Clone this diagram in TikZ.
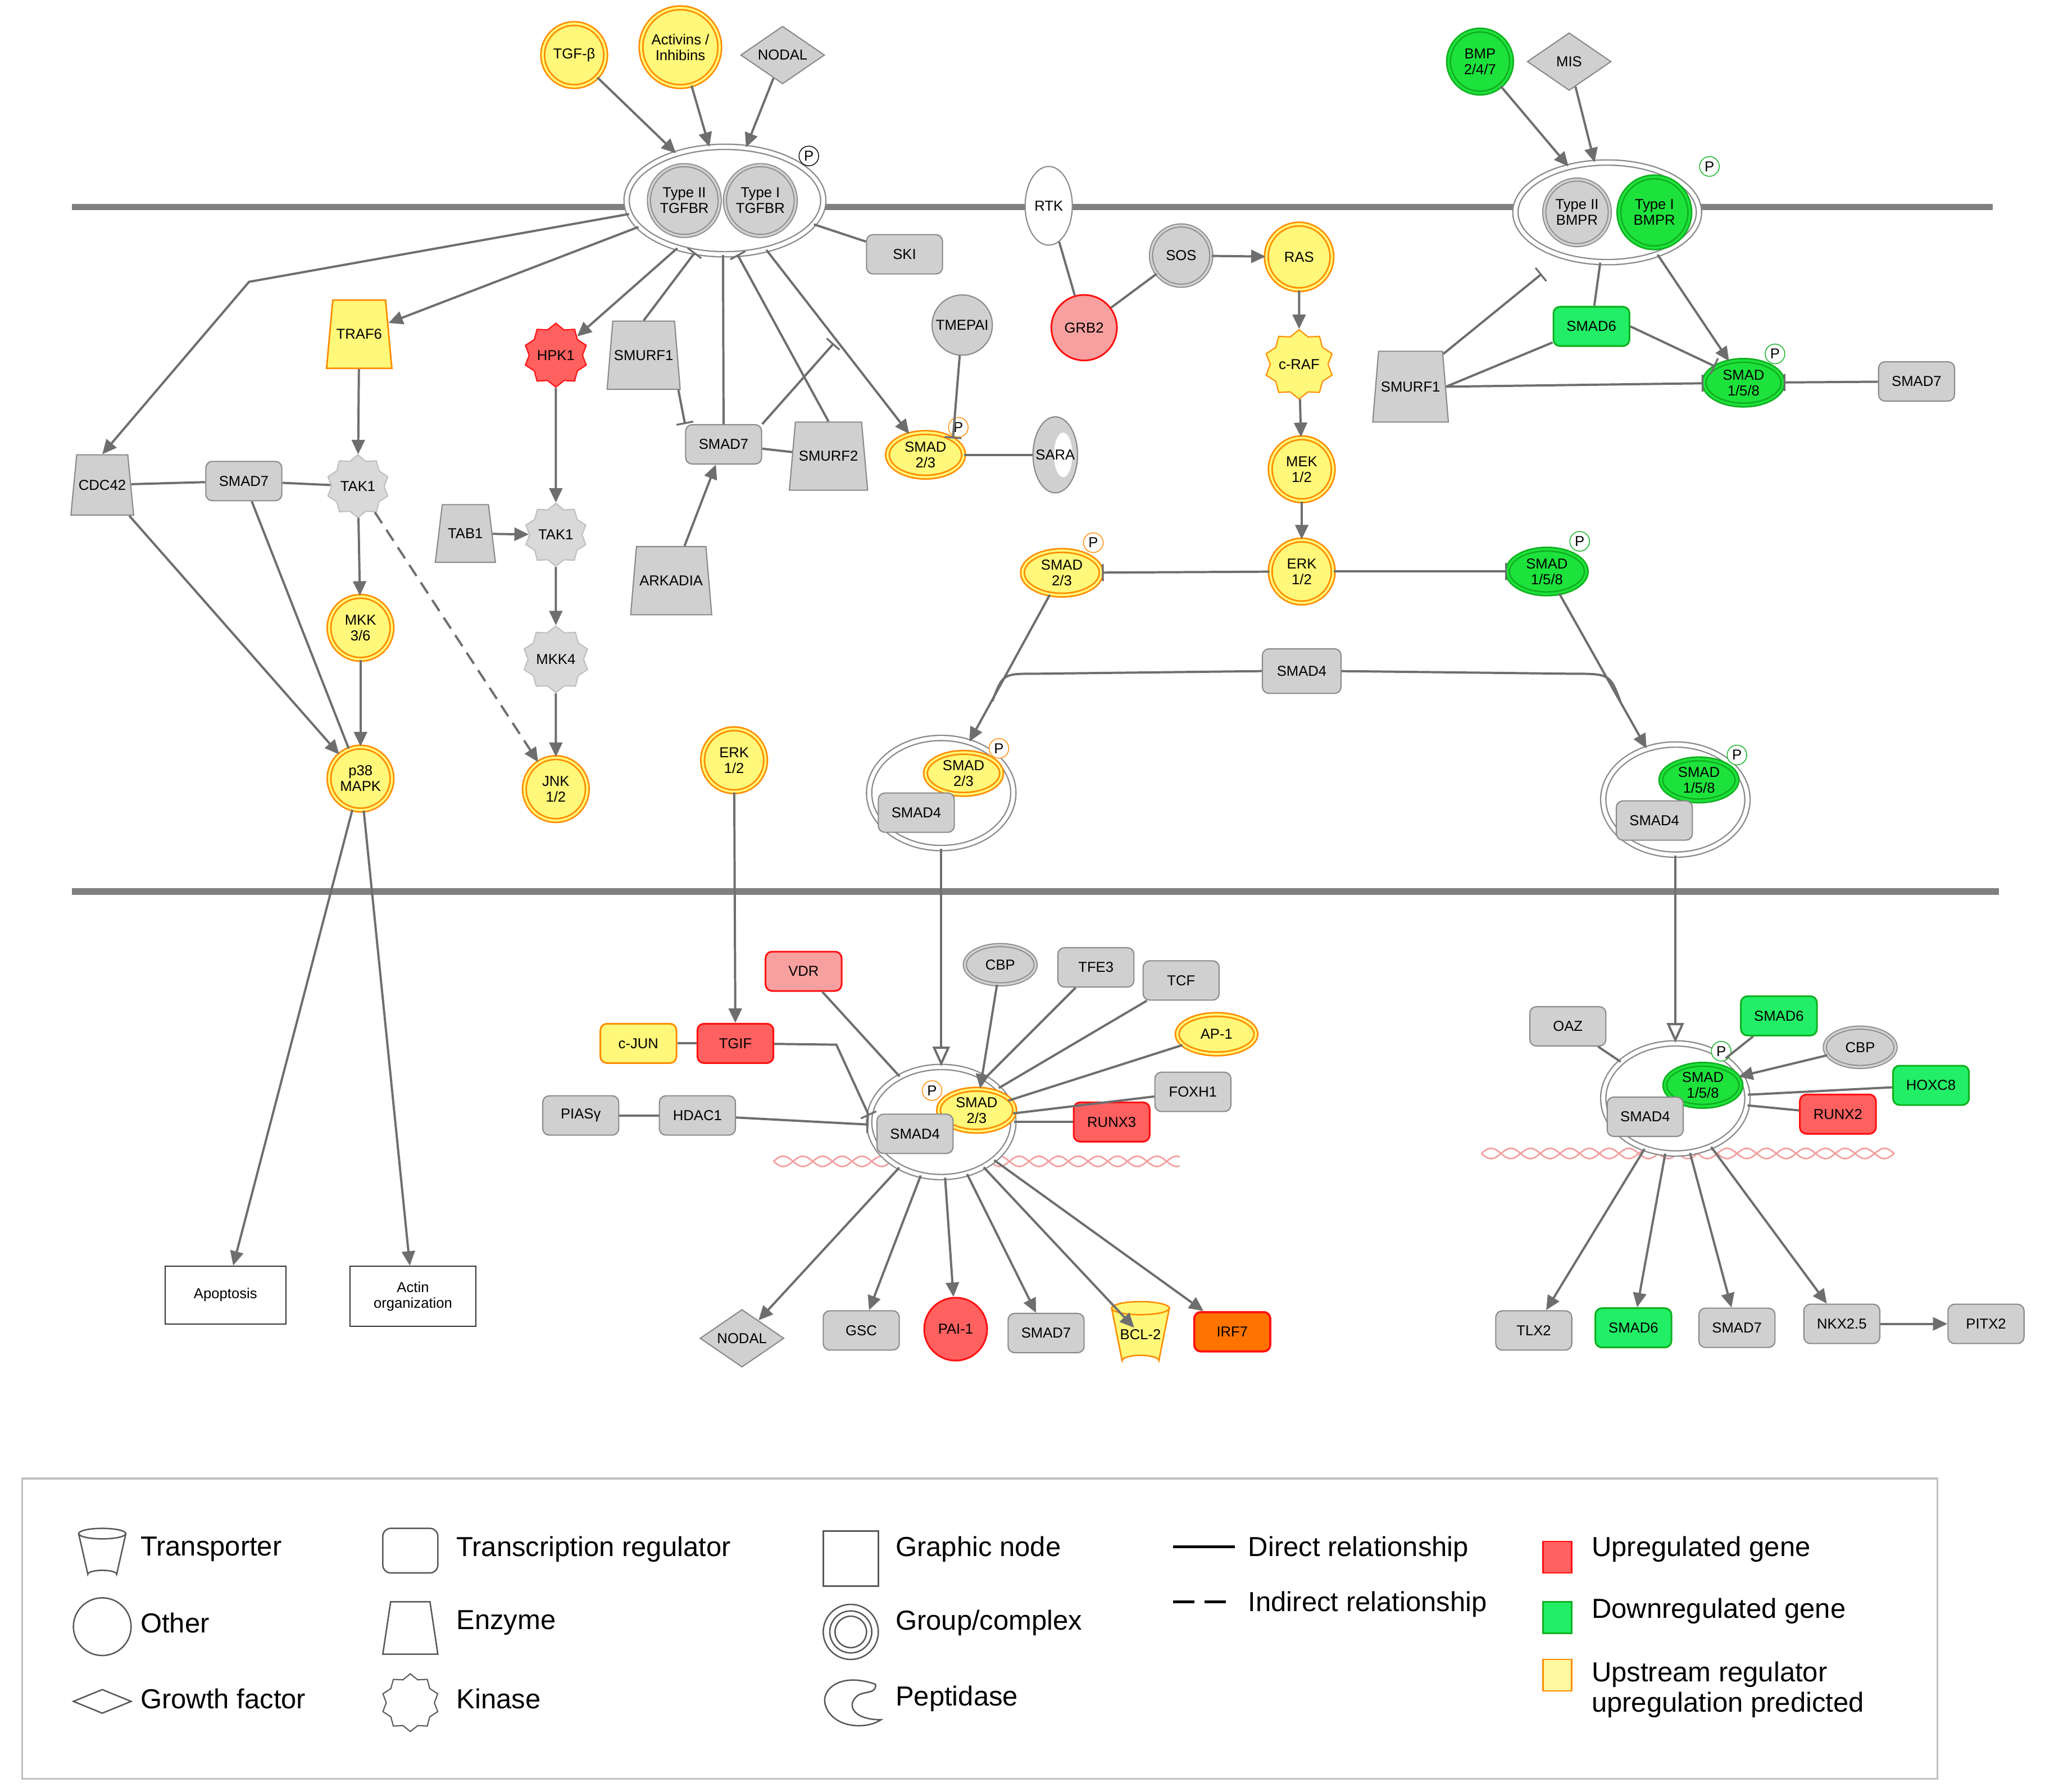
\documentclass[tikz,border=0pt]{standalone}
\usepackage{fontspec}
\setmainfont{Liberation Sans}
\usetikzlibrary{shapes.geometric,arrows.meta}
\definecolor{gfill}{HTML}{D0D0D0}
\definecolor{gdraw}{HTML}{8A8A8A}
\definecolor{ac}{HTML}{6E6E6E}
\definecolor{yelC}{HTML}{FFF87A}
\definecolor{orC}{HTML}{FF8C00}
\definecolor{redF}{HTML}{FF6060}
\definecolor{redD}{HTML}{FF1010}
\definecolor{lred}{HTML}{F8A0A0}
\definecolor{grnF}{HTML}{1EE23C}
\definecolor{grnD}{HTML}{10B020}
\definecolor{mint}{HTML}{22EE66}
\definecolor{dna}{HTML}{F4A0A0}
\begin{document}
\begin{tikzpicture}[x=1pt,y=-1pt,
 every node/.style={font=\fontsize{11}{12}\selectfont, align=center, inner sep=1pt},
 tr/.style={rectangle, rounded corners=5, minimum width=58, minimum height=30, draw=gdraw, fill=gfill, line width=0.9},
 oth/.style={circle, minimum size=#1, line width=0.9},
 oth/.default=46,
 gry/.style={draw=gdraw, fill=gfill, line width=0.9},
 gdbl/.style={draw=gdraw, fill=gfill, double=gfill, double distance=1.6, line width=0.8},
 yel/.style={draw=orC, fill=yelC, double=yelC, double distance=1.6, line width=1.2},
 grn/.style={draw=grnD, fill=grnF, double=grnF, double distance=1.6, line width=1.2},
 rd/.style={draw=redD, fill=redF, line width=1.3},
 lrd/.style={draw=redD, fill=lred, line width=1.3},
 mnt/.style={draw=grnD, fill=mint, line width=1.3},
 ell/.style={ellipse, minimum width=60, minimum height=34, inner sep=0},
 gf/.style={diamond, aspect=1.5, minimum width=64, minimum height=44, draw=gdraw, fill=gfill, line width=0.9, inner sep=0},
 kin/.style={star, star points=10, star point ratio=1.2, minimum size=48, line width=0.9, inner sep=0},
 enz/.style={trapezium, trapezium stretches=true, trapezium left angle=62, trapezium right angle=62, minimum width=56, minimum height=52, draw=gdraw, fill=gfill, line width=0.9, inner sep=0},
 cplx/.style={ellipse, draw=gdraw, fill=white, double=white, double distance=3, line width=1},
 pp/.style={circle, draw=black, fill=white, inner sep=0.5, minimum size=15, line width=0.6, font=\fontsize{11}{11}\selectfont},
 gnode/.style={rectangle, draw=black!80, fill=white, line width=0.9},
 ln/.style={draw=ac, line width=1.7},
 arr/.style={ln, -{Triangle[length=11,width=10]}},
 inh/.style={ln, -{Bar[width=13,line width=1.4]}},
 oarr/.style={ln, -{Triangle[open,length=15,width=13,fill=white]}},
 memb/.style={draw=gray, line width=5},
 leg/.style={font=\fontsize{21}{23}\selectfont, anchor=west, inner sep=0}
]
\useasboundingbox (0,0) rectangle (1560,1367);
% membranes
\draw[memb] (55,158) -- (1520,158);
\draw[memb] (55,680) -- (1525,680);
% DNA
\foreach \a/\b/\y in {590/310/886, 1130/315/880}{
 \draw[dna, line width=1.2] plot[domain=0:\b, samples=120] ({\a+\x},{\y+4*sin(\x*12)});
 \draw[dna, line width=1.2] plot[domain=0:\b, samples=120] ({\a+\x},{\y-4*sin(\x*12)});
}
% ---- top ligands
\node[oth=48,yel] (tgfb) at (438,42) {TGF-β};
\node[oth=60,yel] (act) at (519,36) {Activins /\\Inhibins};
\node[gf] (nodal1) at (597,42) {NODAL};
\node[cplx, minimum width=150, minimum height=82] (tgfc) at (553,153) {};
\node[oth=54,gdbl] (t2) at (522,153) {Type II\\TGFBR};
\node[oth=54,gdbl] (t1) at (580,153) {Type I\\TGFBR};
\node[pp] (p1) at (617,119) {P};
\node[oth=48,grn] (bmp) at (1129,47) {BMP\\2/4/7};
\node[gf] (mis) at (1197,47) {MIS};
\node[cplx, minimum width=140, minimum height=76] (bmprc) at (1226,162) {};
\node[oth=50,gdbl] (bt2) at (1203,162) {Type II\\BMPR};
\node[oth=54,grn] (bt1) at (1262,162) {Type I\\BMPR};
\node[pp,draw=grnD] (p2) at (1304,127) {P};
% RTK pathway
\node[ellipse, draw=gdraw, fill=white, minimum width=36, minimum height=60, line width=0.9] (rtk) at (800,157) {RTK};
\node[oth=50,lrd] (grb2) at (827,250) {GRB2};
\node[oth=46,gdbl] (sos) at (901,195) {SOS};
\node[oth=50,yel] (ras) at (991,196) {RAS};
\node[kin,draw=orC,fill=yelC] (craf) at (991,278) {c-RAF};
\node[oth=48,yel] (mek) at (993,358) {MEK\\1/2};
\node[oth=48,yel] (erk1) at (993,436) {ERK\\1/2};
\node[ell,yel] (s23a) at (810,437) {SMAD\\2/3};
\node[pp,draw=orC] at (834,414) {P};
\node[ell,grn] (s158a) at (1180,436) {SMAD\\1/5/8};
\node[pp,draw=grnD] at (1205,413) {P};
\node[tr, minimum width=60, minimum height=34] (smad4a) at (993,512) {SMAD4};
% TGFB cytoplasm
\node[tr] (ski) at (690,194) {SKI};
\node[oth=46,gry] (tmepai) at (734,248) {TMEPAI};
\node[ell,yel,minimum width=58] (s23b) at (706,347) {SMAD\\2/3};
\node[pp,draw=orC] at (731,326) {P};
\node[ellipse, draw=gdraw, fill=gfill, minimum width=34, minimum height=58, line width=0.9] (sara) at (805,347) {};
\fill[white] (811,347) ellipse (7 and 17);
\node at (805,347) {SARA};
\node[enz] (smurf1) at (491,271) {SMURF1};
\node[tr] (smad7a) at (552,339) {SMAD7};
\node[enz,minimum width=60] (smurf2) at (632,348) {SMURF2};
\node[enz,minimum width=62] (ark) at (512,443) {ARKADIA};
\node[kin,draw=redD,fill=redF] (hpk1) at (424,271) {HPK1};
\node[kin,draw=gray!50,fill=gray!30] (tak1b) at (424,408) {TAK1};
\node[enz,minimum width=46,minimum height=44] (tab1) at (355,407) {TAB1};
\node[kin,draw=gray!50,fill=gray!30] (mkk4) at (424,503) {MKK4};
\node[oth=48,yel] (jnk) at (424,602) {JNK\\1/2};
\node[enz,draw=orC,fill=yelC,line width=1.2,minimum width=50] (traf6) at (274,255) {TRAF6};
\node[kin,draw=gray!50,fill=gray!30] (tak1a) at (273,371) {TAK1};
\node[tr] (smad7b) at (186,367) {SMAD7};
\node[enz,minimum width=48,minimum height=46] (cdc42) at (78,370) {CDC42};
\node[oth=48,yel] (mkk36) at (275,479) {MKK\\3/6};
\node[oth=48,yel] (p38) at (275,594) {p38\\MAPK};
\node[gnode, minimum width=92, minimum height=44] (apop) at (172,988) {Apoptosis};
\node[gnode, minimum width=96, minimum height=46] (actin) at (315,989) {Actin\\organization};
\node[oth=48,yel] (erk2) at (560,580) {ERK\\1/2};
% BMP cytoplasm
\node[tr,mnt] (smad6a) at (1214,249) {SMAD6};
\node[enz,minimum width=58,minimum height=54] (smurf1b) at (1076,295) {SMURF1};
\node[ell,grn] (s158b) at (1330,292) {SMAD\\1/5/8};
\node[pp,draw=grnD] at (1354,270) {P};
\node[tr] (smad7c) at (1462,291) {SMAD7};
% cytoplasm complexes
\node[cplx, minimum width=110, minimum height=84] (c1) at (718,605) {};
\node[ell,yel,minimum width=58,minimum height=32] (s23c) at (735,590) {SMAD\\2/3};
\node[pp,draw=orC] at (762,571) {P};
\node[tr] (smad4b) at (699,620) {SMAD4};
\node[cplx, minimum width=110, minimum height=84] (c2) at (1278,610) {};
\node[ell,grn,minimum width=58,minimum height=32] (s158c) at (1296,595) {SMAD\\1/5/8};
\node[pp,draw=grnD] at (1325,576) {P};
\node[tr] (smad4c) at (1262,626) {SMAD4};
% nucleus complexes
\node[cplx, minimum width=110, minimum height=84] (n1) at (718,856) {};
\node[ell,yel,minimum width=58,minimum height=32] (s23d) at (745,847) {SMAD\\2/3};
\node[pp,draw=orC] at (711,832) {P};
\node[tr] (smad4d) at (698,865) {SMAD4};
\node[cplx, minimum width=110, minimum height=84] (n2) at (1278,838) {};
\node[ell,grn,minimum width=58,minimum height=32] (s158d) at (1299,828) {SMAD\\1/5/8};
\node[pp,draw=grnD] at (1313,802) {P};
\node[tr] (smad4e) at (1255,852) {SMAD4};
% nucleus left regulators
\node[tr,lrd] (vdr) at (613,741) {VDR};
\node[tr,draw=orC,fill=yelC,line width=1.3] (cjun) at (487,796) {c-JUN};
\node[tr,rd] (tgif) at (561,796) {TGIF};
\node[tr] (pias) at (443,851) {PIASγ};
\node[tr] (hdac1) at (532,851) {HDAC1};
\node[ellipse,gdbl,minimum width=54,minimum height=30] (cbp1) at (763,736) {CBP};
\node[tr] (tfe3) at (836,738) {TFE3};
\node[tr] (tcf) at (901,748) {TCF};
\node[ell,yel,minimum height=30] (ap1) at (928,789) {AP-1};
\node[tr] (foxh1) at (910,833) {FOXH1};
\node[tr,rd] (runx3) at (848,856) {RUNX3};
% targets left
\node[gf] (nodal2) at (566,1021) {NODAL};
\node[tr] (gsc) at (657,1015) {GSC};
\node[oth=48,rd] (pai1) at (729,1014) {PAI-1};
\node[tr] (smad7d) at (798,1017) {SMAD7};
\fill[yelC, draw=orC, line width=1.1] (848,998) -- (856,1038) arc(180:360:14 and 4) -- (892,998) -- cycle;
\draw[orC, fill=yelC, line width=1.1] (870,998) ellipse (22 and 5);
\node (bcl2) at (870,1018) {BCL-2};
\node[tr, draw=redD, fill=orange!90!red, line width=1.6] (irf7) at (940,1016) {IRF7};
% nucleus right regulators
\node[tr] (oaz) at (1196,783) {OAZ};
\node[tr,mnt] (smad6b) at (1357,775) {SMAD6};
\node[ellipse,gdbl,minimum width=54,minimum height=30] (cbp2) at (1419,799) {CBP};
\node[tr,mnt] (hoxc8) at (1473,828) {HOXC8};
\node[tr,rd] (runx2) at (1402,850) {RUNX2};
\node[tr] (tlx2) at (1170,1015) {TLX2};
\node[tr,mnt] (smad6c) at (1246,1013) {SMAD6};
\node[tr] (smad7e) at (1325,1013) {SMAD7};
\node[tr] (nkx) at (1405,1010) {NKX2.5};
\node[tr] (pitx2) at (1515,1010) {PITX2};
% ---- edges
\draw[arr] (tgfb) -- (tgfc);
\draw[arr] (act) -- (tgfc);
\draw[arr] (nodal1) -- (tgfc);
\draw[arr] (bmp) -- (bmprc);
\draw[arr] (mis) -- (bmprc);
\coordinate (k1) at (190,215);
\draw[arr] (tgfc.188) -- (k1) -- (cdc42.north);
\draw[arr] (tgfc.197) -- (traf6);
\draw[arr] (tgfc.225) -- (hpk1);
\draw[ln] (tgfc.345) -- (ski);
\draw[inh] (smurf1.north) -- (tgfc.240);
\draw[inh] (smurf1.south east) -- (smad7a.north west);
\draw[ln] (tgfc.268) -- (smad7a);
\draw[inh] (smurf2.north) -- (tgfc.283);
\coordinate (k2) at (636,262);
\draw[inh] (smad7a.north east) -- (k2);
\draw[ln] (smad7a) -- (smurf2);
\draw[arr] (ark) -- (smad7a);
\draw[arr] (tgfc.310) -- (s23b);
\draw[inh] (tmepai) -- (s23b.north east);
\draw[ln] (s23b) -- (sara);
\draw[ln] (rtk) -- (grb2);
\draw[ln] (grb2) -- (sos);
\draw[arr] (sos) -- (ras);
\draw[arr] (ras) -- (craf);
\draw[arr] (craf) -- (mek);
\draw[arr] (mek) -- (erk1);
\draw[inh] (erk1) -- (s23a);
\draw[inh] (erk1) -- (s158a);
\draw[arr] (s23a) -- (c1);
\draw[arr] (s158a) -- (c2);
\coordinate (jl) at (757,535);
\coordinate (jr) at (1236,535);
\draw[ln] (smad4a.west) -- (790,514) .. controls (765,514) .. (jl);
\draw[ln] (smad4a.east) -- (1198,514) .. controls (1228,514) .. (jr);
% BMP
\draw[ln] (bmprc) -- (smad6a);
\coordinate (k4) at (1176,209);
\draw[inh] (smurf1b.north east) -- (k4);
\draw[ln] (smad6a) -- (smurf1b.east);
\draw[inh] (smad6a.east) -- (s158b.north west);
\draw[inh] (smurf1b.east) -- (s158b);
\draw[inh] (smad7c) -- (s158b);
\draw[arr] (bmprc.320) -- (s158b);
% MAPK
\draw[arr] (traf6) -- (tak1a);
\draw[ln] (smad7b) -- (tak1a);
\draw[ln] (cdc42) -- (smad7b);
\draw[arr] (tak1a) -- (mkk36);
\draw[arr] (mkk36) -- (p38);
\draw[ln, dash pattern=on 10pt off 6pt, -{Triangle[length=11,width=10]}] (tak1a) -- (jnk);
\draw[arr] (cdc42) -- (p38);
\draw[ln] (smad7b) -- (p38);
\draw[arr] (hpk1) -- (tak1b);
\draw[arr] (tab1) -- (tak1b);
\draw[arr] (tak1b) -- (mkk4);
\draw[arr] (mkk4) -- (jnk);
\draw[arr] (p38) -- (apop);
\draw[arr] (p38) -- (actin);
\draw[arr] (erk2) -- (tgif);
% nuclear
\draw[oarr] (c1) -- (n1);
\draw[oarr] (c2) -- (n2);
\draw[ln] (vdr) -- (n1);
\draw[ln] (cjun) -- (tgif);
\coordinate (k3) at (638,797);
\draw[inh] (tgif) -- (k3) -- (n1.175);
\draw[ln] (pias) -- (hdac1);
\draw[inh] (hdac1) -- (n1.182);
\draw[arr] (cbp1) -- (s23d);
\draw[ln] (tfe3) -- (n1);
\draw[ln] (tcf) -- (n1);
\draw[ln] (ap1) -- (n1);
\draw[ln] (foxh1) -- (n1);
\draw[ln] (runx3) -- (n1);
\draw[arr] (n1) -- (nodal2);
\draw[arr] (n1) -- (gsc);
\draw[arr] (n1) -- (pai1);
\draw[arr] (n1) -- (smad7d);
\draw[arr] (n1) -- (bcl2);
\draw[arr] (n1) -- (irf7);
\draw[ln] (oaz) -- (n2);
\draw[ln] (smad6b) -- (n2);
\draw[arr] (cbp2) -- (s158d);
\draw[ln] (hoxc8) -- (n2);
\draw[ln] (runx2) -- (n2);
\draw[arr] (n2) -- (tlx2);
\draw[arr] (n2) -- (smad6c);
\draw[arr] (n2) -- (smad7e);
\draw[arr] (n2) -- (nkx);
\draw[arr] (nkx) -- (pitx2);
% ---- legend
\draw[gray!50, line width=1.5] (17,1128) rectangle (1478,1357);
\draw[gray!70!black, line width=1.1] (60,1170) -- (67,1201) arc(180:360:11 and 3) -- (96,1170);
\draw[gray!70!black, line width=1.1] (78,1170) ellipse (18 and 4);
\node[leg] at (107,1182) {Transporter};
\draw[gray!70!black, line width=1.1] (78,1241) circle (22);
\node[leg] at (107,1238) {Other};
\draw[gray!70!black, line width=1.1] (56,1298) -- (78,1289) -- (100,1298) -- (78,1307) -- cycle;
\node[leg] at (107,1296) {Growth factor};
\draw[gray!70!black, line width=1.1, rounded corners=6] (292,1166) rectangle (334,1200);
\node[leg] at (348,1182) {Transcription regulator};
\draw[gray!70!black, line width=1.1] (298,1222) -- (328,1222) -- (334,1262) -- (292,1262) -- cycle;
\node[leg] at (348,1238) {Enzyme};
\node[kin, draw=gray!70!black, minimum size=44] at (313,1299) {};
\node[leg] at (348,1296) {Kinase};
\draw[gray!70!black, line width=1.1] (628,1168) rectangle (670,1210);
\node[leg] at (683,1182) {Graphic node};
\draw[gray!70!black, line width=1.1] (649,1245) circle (21) circle (16) circle (12);
\node[leg] at (683,1238) {Group/complex};
\draw[gray!70!black, line width=1.1] (668,1285) .. controls (640,1275) and (625,1290) .. (630,1302) .. controls (636,1318) and (660,1320) .. (672,1312) .. controls (650,1312) and (645,1300) .. (655,1293) .. controls (662,1290) and (668,1292) .. (668,1285);
\node[leg] at (683,1296) {Peptidase};
\draw[black, line width=2.4] (895,1180) -- (942,1180);
\node[leg] at (952,1182) {Direct relationship};
\draw[black, line width=2.4, dash pattern=on 16pt off 8pt] (895,1222) -- (942,1222);
\node[leg] at (952,1224) {Indirect relationship};
\draw[redD, fill=redF, line width=1.2] (1177,1176) rectangle (1199,1200);
\node[leg] at (1214,1182) {Upregulated gene};
\draw[grnD, fill=mint, line width=1.2] (1177,1222) rectangle (1199,1246);
\node[leg] at (1214,1229) {Downregulated gene};
\draw[orC, fill=yelC!70!white, line width=1.2] (1177,1266) rectangle (1199,1290);
\node[leg, align=left] at (1214,1289) {Upstream regulator\\upregulation predicted};
\end{tikzpicture}
\end{document}
